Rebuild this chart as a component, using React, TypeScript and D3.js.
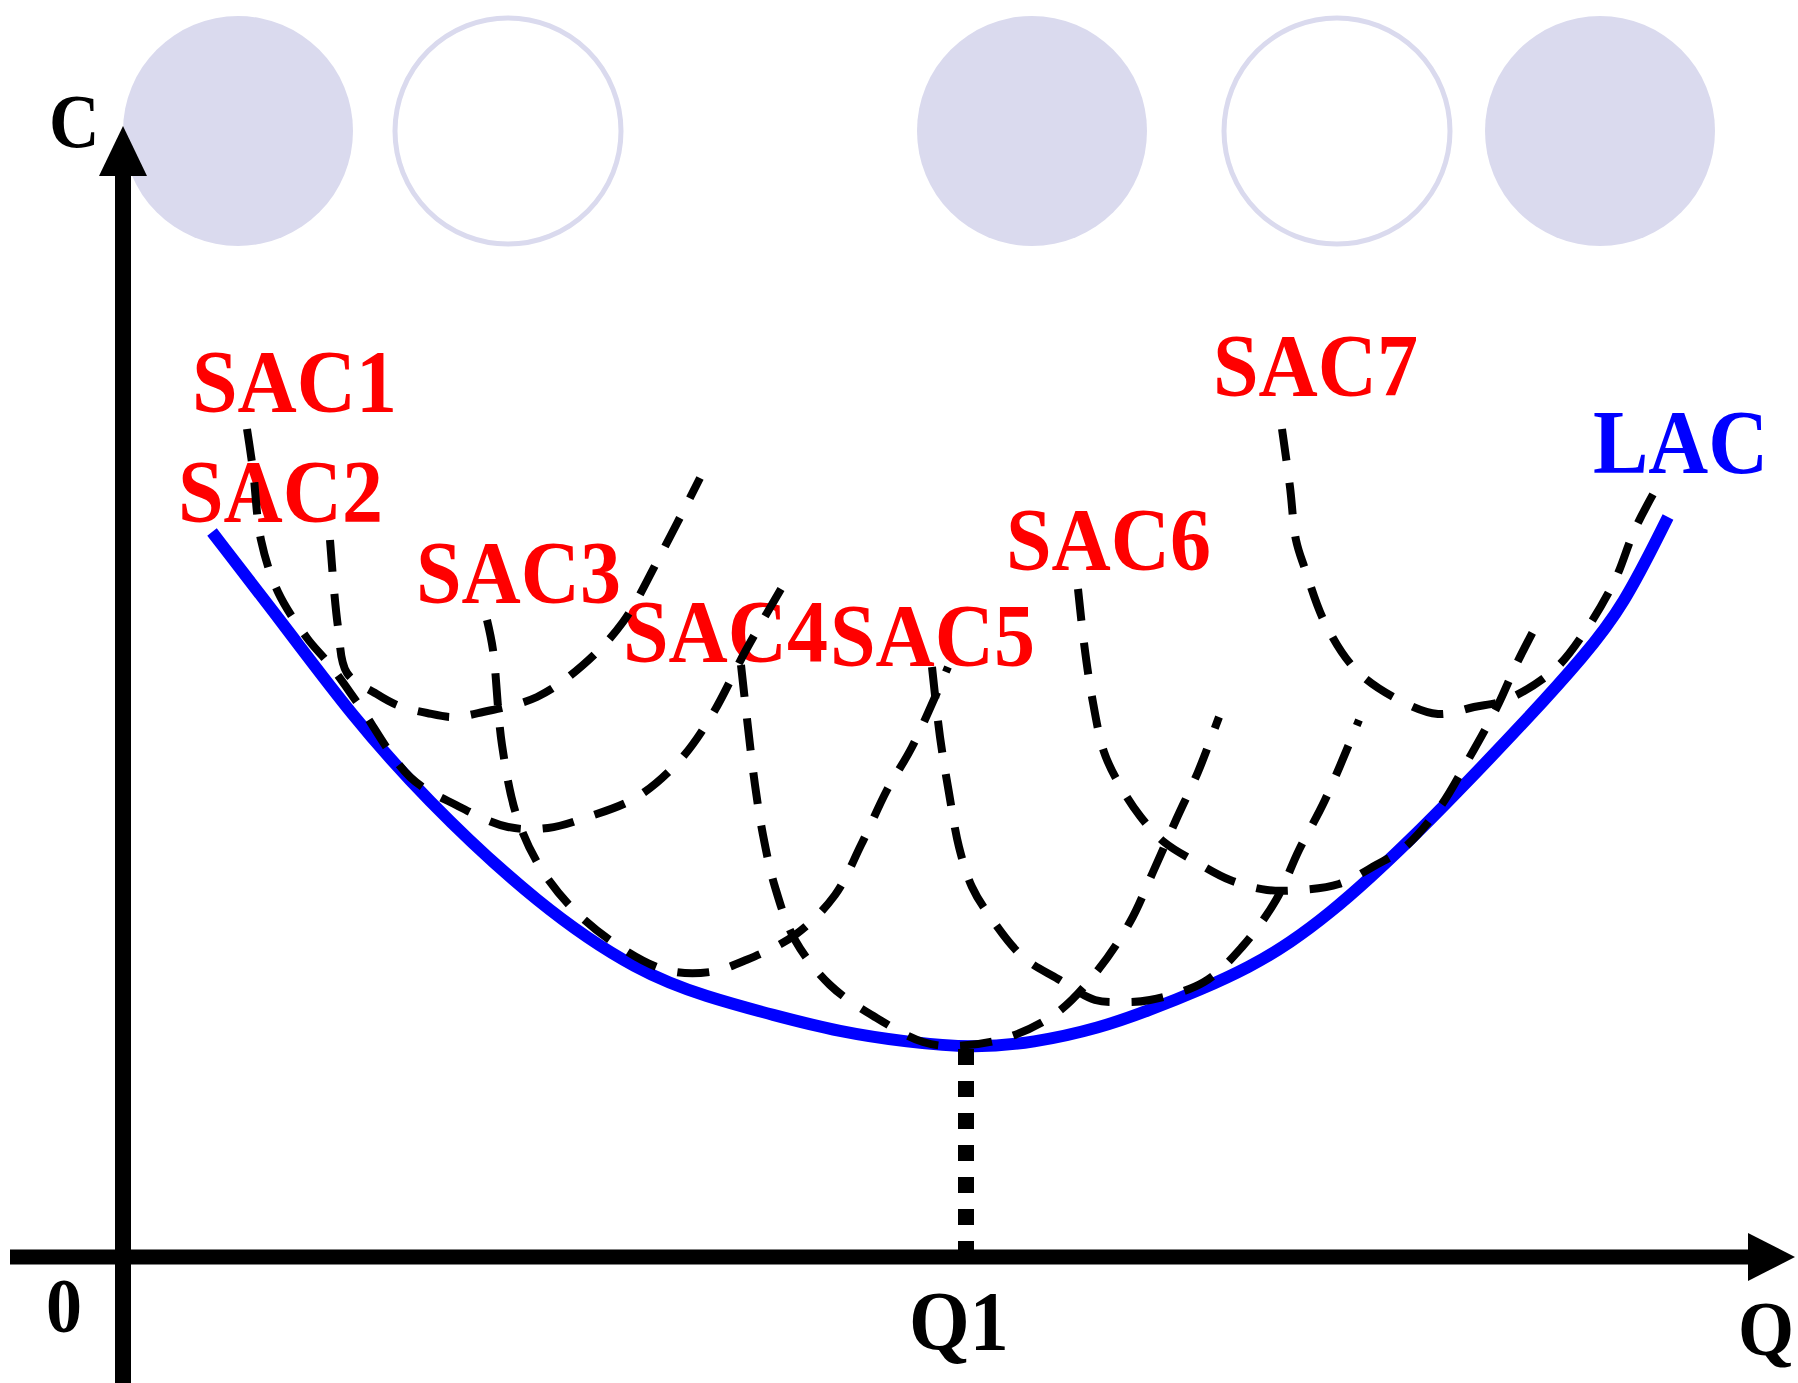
import * as d3 from 'd3'

// curve points, [Q, C]
const lac: [number, number][] = [
  [8.9, 72.5], [16.7, 62.4], [22.7, 54.4], [30.0, 46.0], [41.7, 35.0], [51.7, 28.4],
  [58.4, 26.0], [65.0, 24.2], [71.7, 22.5], [78.4, 21.5], [85.0, 20.9], [91.0, 21.4],
  [97.7, 22.9], [102.7, 24.7], [107.7, 26.7], [112.7, 29.0], [116.7, 31.4], [120.7, 34.4],
  [124.7, 37.9], [128.7, 41.7], [132.7, 45.7], [141.0, 54.4], [146.0, 60.0], [150.0, 65.0],
  [154.5, 74.0],
]
const sac1: [number, number][] = [
  [12.4, 82.8], [13.0, 78.7], [13.8, 71.7], [15.5, 66.5], [18.4, 61.9], [20.7, 59.2],
  [23.6, 55.2], [28.7, 48.0], [33.3, 45.2], [38.5, 43.0], [42.5, 42.9], [46.5, 44.0],
  [51.4, 46.0], [55.7, 49.7], [58.9, 54.2], [62.3, 60.7], [65.8, 66.8],
]
const sac2: [number, number][] = [
  [20.7, 71.7], [21.5, 63.0], [22.4, 58.4], [25.2, 56.4], [27.4, 55.2], [30.4, 54.4],
  [33.0, 54.0], [36.0, 54.5], [41.4, 56.0], [46.0, 59.2], [50.0, 63.5], [53.7, 70.1],
  [57.7, 77.9],
]
const sac3: [number, number][] = [
  [36.4, 63.7], [37.0, 60.7], [37.9, 51.2], [39.4, 44.0], [41.7, 39.0], [45.1, 34.7],
  [49.4, 31.2], [54.3, 28.7], [58.7, 28.5], [62.3, 29.7], [67.2, 32.2], [71.2, 36.2],
  [73.8, 41.2], [76.4, 46.7], [78.9, 51.0], [82.5, 59.0],
]
const sac4: [number, number][] = [
  [61.8, 59.2], [62.3, 54.7], [63.2, 47.2], [64.0, 42.2], [65.2, 37.0], [67.2, 31.7],
  [70.7, 27.2], [75.2, 24.0], [80.0, 21.5], [83.2, 21.1], [88.6, 22.0], [93.5, 24.5],
  [97.5, 28.7], [100.7, 33.5], [103.0, 38.5], [105.3, 43.7], [107.5, 48.5], [109.6, 54.0],
]
const sac5: [number, number][] = [
  [80.9, 59.0], [81.7, 52.0], [82.6, 46.4], [83.6, 41.0], [84.9, 37.0], [86.6, 34.2],
  [90.0, 30.0], [93.5, 27.8], [97.2, 25.7], [99.8, 25.5], [102.7, 25.7], [108.1, 27.5],
  [111.9, 31.0], [115.3, 35.7], [117.6, 40.7], [120.2, 45.7], [123.6, 53.7],
]
const sac6: [number, number][] = [
  [95.5, 66.8], [96.1, 61.4], [96.9, 56.0], [98.1, 50.5], [99.5, 47.5], [101.7, 44.1],
  [104.1, 41.5], [107.3, 39.5], [110.7, 37.7], [114.4, 36.7], [117.6, 36.7], [121.6, 37.3],
  [125.3, 39.2], [128.2, 41.0], [131.7, 45.0], [134.5, 49.7], [137.4, 55.0], [139.4, 59.4],
  [141.5, 63.5],
]
const sac7: [number, number][] = [
  [115.9, 82.8], [116.7, 77.0], [117.3, 71.7], [118.2, 68.8], [120.2, 63.4], [123.3, 58.7],
  [127.6, 55.7], [131.5, 54.3], [135.1, 55.0], [138.3, 55.7], [143.1, 58.7], [146.3, 62.7],
  [149.2, 67.7], [151.2, 72.8], [153.8, 77.7],
]
const sacCurves = [sac1, sac2, sac3, sac4, sac5, sac6, sac7]
const sacNames = ['SAC1', 'SAC2', 'SAC3', 'SAC4', 'SAC5', 'SAC6', 'SAC7']
const q1 = 84.3
const q1Cost = 20.8

// layout (pixels)
const W = 1798
const H = 1383
const X0 = 123
const Y0 = 1257
const sacLabelPos: [number, number][] = [
  [192, 411], [178, 521], [416, 602], [623, 661], [830, 665], [1006, 569], [1213, 395],
]
const circles = [
  { cx: 238, filled: true },
  { cx: 508, filled: false },
  { cx: 1032, filled: true },
  { cx: 1337, filled: false },
  { cx: 1600, filled: true },
]
const lavender = '#dadaee'
const font = '"Liberation Serif", "Times New Roman", serif'

function Label({ x, y, text, size, color }: { x: number; y: number; text: string; size: number; color: string }) {
  return (
    <text
      transform={`translate(${x},${y}) scale(1,1.09)`}
      fontFamily={font}
      fontWeight="bold"
      fontSize={size}
      fill={color}
    >
      {text}
    </text>
  )
}

export default function App() {
  const x = d3.scaleLinear().domain([0, 100]).range([X0, X0 + 1000])
  const y = d3.scaleLinear().domain([0, 100]).range([Y0, Y0 - 1000])
  const dashed = d3
    .line<[number, number]>()
    .x((d) => x(d[0]))
    .y((d) => y(d[1]))
    .curve(d3.curveCatmullRom.alpha(0.5))
  // the envelope is smoothed a little more so reading noise does not show
  const envelope = d3
    .line<[number, number]>()
    .x((d) => x(d[0]))
    .y((d) => y(d[1]))
    .curve(d3.curveBasis)

  const ax = x(0)
  const ay = y(0)

  return (
    <svg
      width={W}
      height={H}
      viewBox={`0 0 ${W} ${H}`}
      style={{ position: 'absolute', left: 0, top: 0, display: 'block', background: '#fff' }}
    >
      {circles.map((c, i) =>
        c.filled ? (
          <circle key={i} cx={c.cx} cy={131} r={115} fill={lavender} />
        ) : (
          <circle key={i} cx={c.cx} cy={131} r={113} fill="none" stroke={lavender} strokeWidth={5} />
        )
      )}

      {/* axes */}
      <line x1={ax} x2={ax} y1={H} y2={174} stroke="#000" strokeWidth={16} />
      <path d={`M${ax},126 L${ax + 24},176 L${ax - 24},176 Z`} fill="#000" />
      <line x1={10} x2={1750} y1={ay} y2={ay} stroke="#000" strokeWidth={15} />
      <path d={`M1795,${ay} L1748,${ay - 24} L1748,${ay + 24} Z`} fill="#000" />

      {/* labels (the dashed curves run over them) */}
      {sacNames.map((n, i) => (
        <Label key={n} x={sacLabelPos[i][0]} y={sacLabelPos[i][1]} text={n} size={82} color="#ff0000" />
      ))}
      <Label x={1593} y={473} text="LAC" size={83} color="#0000ff" />
      <Label x={49} y={147} text="C" size={70} color="#000" />
      <Label x={46} y={1332} text="0" size={72} color="#000" />
      <Label x={909} y={1350} text="Q1" size={78} color="#000" />
      <Label x={1738} y={1355} text="Q" size={72} color="#000" />

      {/* LAC */}
      <path d={envelope(lac) ?? ''} fill="none" stroke="#0000ff" strokeWidth={12} />

      {/* SAC curves */}
      {sacCurves.map((s, i) => (
        <path
          key={sacNames[i]}
          d={dashed(s) ?? ''}
          fill="none"
          stroke="#000"
          strokeWidth={8}
          strokeDasharray="32 22"
        />
      ))}

      {/* Q1 drop line */}
      <line
        x1={x(q1)}
        x2={x(q1)}
        y1={y(q1Cost)}
        y2={ay}
        stroke="#000"
        strokeWidth={16}
        strokeDasharray="16 16"
      />
    </svg>
  )
}
